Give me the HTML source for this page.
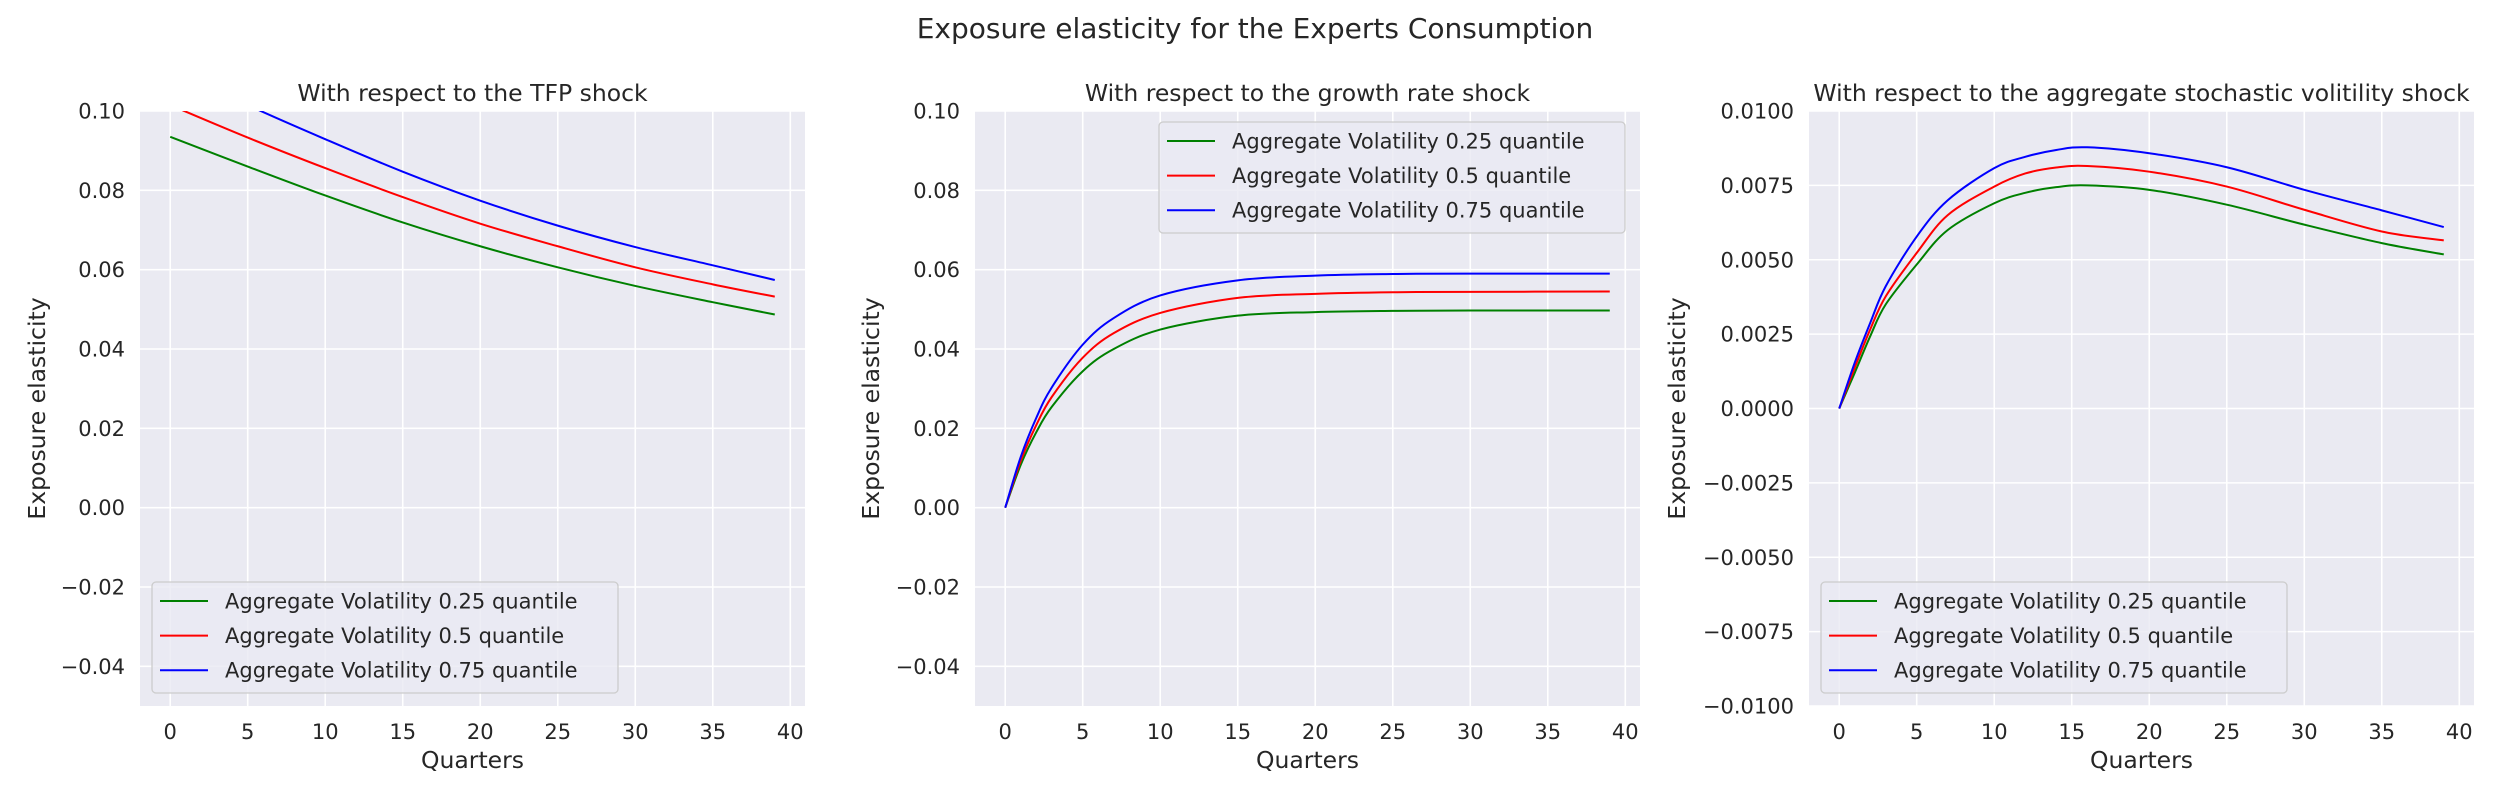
<!DOCTYPE html>
<html><head><meta charset="utf-8"><style>
html,body{margin:0;padding:0;background:#fff;}
svg{display:block;font-family:"DejaVu Sans","Liberation Sans",sans-serif;}
</style></head><body>
<svg id="fig" width="2500" height="800" viewBox="0 0 2500 800" xmlns="http://www.w3.org/2000/svg">
<text x="1255" y="38" font-size="28" fill="#262626" text-anchor="middle">Exposure elasticity for the Experts Consumption</text>
</svg>
<script>
// ---- Data ----
const seriesNames = ["Aggregate Volatility 0.25 quantile","Aggregate Volatility 0.5 quantile","Aggregate Volatility 0.75 quantile"];
const seriesColors = ["#008000","#ff0000","#0000ff"];
const xTicks = [0,5,10,15,20,25,30,35,40];

const tfpX = [0,5,10,15,20,25,30,35,39];
const tfpLow = [0.0935,0.0860,0.0787,0.0719,0.0659,0.0606,0.0559,0.0518,0.0487];
const tfpMid = [0.1015,0.0933,0.0856,0.0783,0.0716,0.0659,0.0606,0.0563,0.0532];
const tfpHigh = [0.111,0.1015,0.0929,0.0847,0.0774,0.0711,0.0657,0.0611,0.0574];
const tfpYTicks = [-0.04,-0.02,0.00,0.02,0.04,0.06,0.08,0.10];
const tfpYTickLabels = ["\u22120.04","\u22120.02","0.00","0.02","0.04","0.06","0.08","0.10"];

const grX = [0,1,2,3,5,7,10,15,20,25,30,39];
const grLow = [0,0.0108,0.019,0.0254,0.0344,0.0400,0.0449,0.0484,0.0493,0.0496,0.0497,0.0497];
const grMid = [0,0.0118,0.0208,0.0279,0.0378,0.0440,0.0491,0.0529,0.0539,0.0543,0.0544,0.0545];
const grHigh = [0,0.0128,0.0226,0.0303,0.0411,0.0478,0.0535,0.0573,0.0585,0.0589,0.0590,0.0590];
const grYTicks = tfpYTicks;
const grYTickLabels = tfpYTickLabels;

const svX = [0,1,2,3,5,7,10,12,14,16,20,25,30,35,39];
const svLow = [0,0.0012,0.00243,0.0035,0.00484,0.0060,0.0069,0.00725,0.00744,0.0075,0.00735,0.00685,0.00618,0.00556,0.00518];
const svMid = [0,0.00137,0.00266,0.00377,0.00523,0.0065,0.00746,0.0079,0.0081,0.00815,0.00796,0.00746,0.00668,0.00595,0.00565];
const svHigh = [0,0.00154,0.00288,0.00411,0.00578,0.0070,0.00808,0.00846,0.00869,0.00878,0.00858,0.00811,0.00735,0.00666,0.0061];
const svYTicks = [-0.01,-0.0075,-0.005,-0.0025,0,0.0025,0.005,0.0075,0.01];
const svYTickLabels = ["\u22120.0100","\u22120.0075","\u22120.0050","\u22120.0025","0.0000","0.0025","0.0050","0.0075","0.0100"];

const panels = [
 {name:"tfp",left:140,title:"With respect to the TFP shock",x:tfpX,ys:[tfpLow,tfpMid,tfpHigh],ymin:-0.05,ymax:0.10,yt:tfpYTicks,ytl:tfpYTickLabels,legTop:582,ylx:37},
 {name:"growth",left:975,title:"With respect to the growth rate shock",x:grX,ys:[grLow,grMid,grHigh],ymin:-0.05,ymax:0.10,yt:grYTicks,ytl:grYTickLabels,legTop:122,ylx:871},
 {name:"volatility",left:1809,title:"With respect to the aggregate stochastic volitility shock",x:svX,ys:[svLow,svMid,svHigh],ymin:-0.01,ymax:0.01,yt:svYTicks,ytl:svYTickLabels,legTop:582,ylx:1677}
];
const NS="http://www.w3.org/2000/svg";
const fig=document.getElementById('fig');
function mk(tag,attrs,parent){const e=document.createElementNS(NS,tag);for(const k in attrs)e.setAttribute(k,attrs[k]);(parent||fig).appendChild(e);return e;}
const TOP=111,BOT=706,W=665,XMIN=-1.95,XMAX=40.95;
function smooth(pts){
  let d="M"+pts[0][0].toFixed(2)+","+pts[0][1].toFixed(2);
  for(let i=0;i<pts.length-1;i++){
    const p0=pts[Math.max(0,i-1)],p1=pts[i],p2=pts[i+1],p3=pts[Math.min(pts.length-1,i+2)];
    const c1x=p1[0]+(p2[0]-p0[0])/6,c1y=p1[1]+(p2[1]-p0[1])/6;
    const c2x=p2[0]-(p3[0]-p1[0])/6,c2y=p2[1]-(p3[1]-p1[1])/6;
    d+=" C"+c1x.toFixed(2)+","+c1y.toFixed(2)+" "+c2x.toFixed(2)+","+c2y.toFixed(2)+" "+p2[0].toFixed(2)+","+p2[1].toFixed(2);
  }
  return d;
}
panels.forEach(p=>{
  const xs=v=>p.left+(v-XMIN)/(XMAX-XMIN)*W;
  const ys=v=>BOT-(v-p.ymin)/(p.ymax-p.ymin)*(BOT-TOP);
  const g=mk('g',{});
  
  
  const bg=mk('rect',{x:p.left,y:TOP,width:W,height:BOT-TOP,fill:'#eaeaf2'},g);
  
  
  const clipId='clip-'+p.name;
  const cp=mk('clipPath',{id:clipId},g);
  mk('rect',{x:p.left,y:TOP,width:W,height:BOT-TOP},cp);
  xTicks.forEach(t=>{
    const l=mk('line',{x1:xs(t),x2:xs(t),y1:TOP,y2:BOT,stroke:'#fff','stroke-width':1.6},g);
    
    
    const tx=mk('text',{x:xs(t),y:739,'font-size':21,fill:'#262626','text-anchor':'middle'},g);
    
    
    tx.textContent=t;
  });
  p.yt.forEach((t,i)=>{
    const l=mk('line',{x1:p.left,x2:p.left+W,y1:ys(t),y2:ys(t),stroke:'#fff','stroke-width':1.6},g);
    
    
    const tx=mk('text',{x:p.left-15,y:ys(t)+7.5,'font-size':21,fill:'#262626','text-anchor':'end'},g);
    
    
    tx.textContent=p.ytl[i];
  });
  const lg=mk('g',{'clip-path':'url(#'+clipId+')'},g);
  p.ys.forEach((arr,si)=>{
    const pts=p.x.map((xv,i)=>[xs(xv),ys(arr[i])]);
    const path=mk('path',{d:smooth(pts),fill:'none',stroke:seriesColors[si],'stroke-width':2},lg);
    
    
  });
  const t=mk('text',{x:p.left+W/2,y:101,'font-size':23.5,fill:'#262626','text-anchor':'middle'},g);
  
  
  t.textContent=p.title;
  const xl=mk('text',{x:p.left+W/2,y:768,'font-size':23.5,fill:'#262626','text-anchor':'middle'},g);
  
  
  xl.textContent='Quarters';
  const yl=mk('text',{x:p.ylx+8,y:(TOP+BOT)/2,'font-size':23.5,fill:'#262626','text-anchor':'middle',transform:'rotate(-90 '+(p.ylx+8)+' '+((TOP+BOT)/2)+')'},g);
  
  
  yl.textContent='Exposure elasticity';
  const lx = p.name==='growth'?1159:p.left+12;
  const leg=mk('g',{},g);
  
  
  mk('rect',{x:lx,y:p.legTop,width:466,height:111,rx:4,fill:'#eaeaf2','fill-opacity':0.8,stroke:'#cccccc','stroke-width':1.3},leg);
  seriesNames.forEach((n,si)=>{
    const ry=p.legTop+19+si*34.6;
    const hl=mk('line',{x1:lx+8,x2:lx+56,y1:ry,y2:ry,stroke:seriesColors[si],'stroke-width':2},leg);
    
    
    const tx=mk('text',{x:lx+73,y:ry+7.5,'font-size':21,fill:'#262626'},leg);
    
    
    tx.textContent=n;
  });
});
</script>
</body></html>
